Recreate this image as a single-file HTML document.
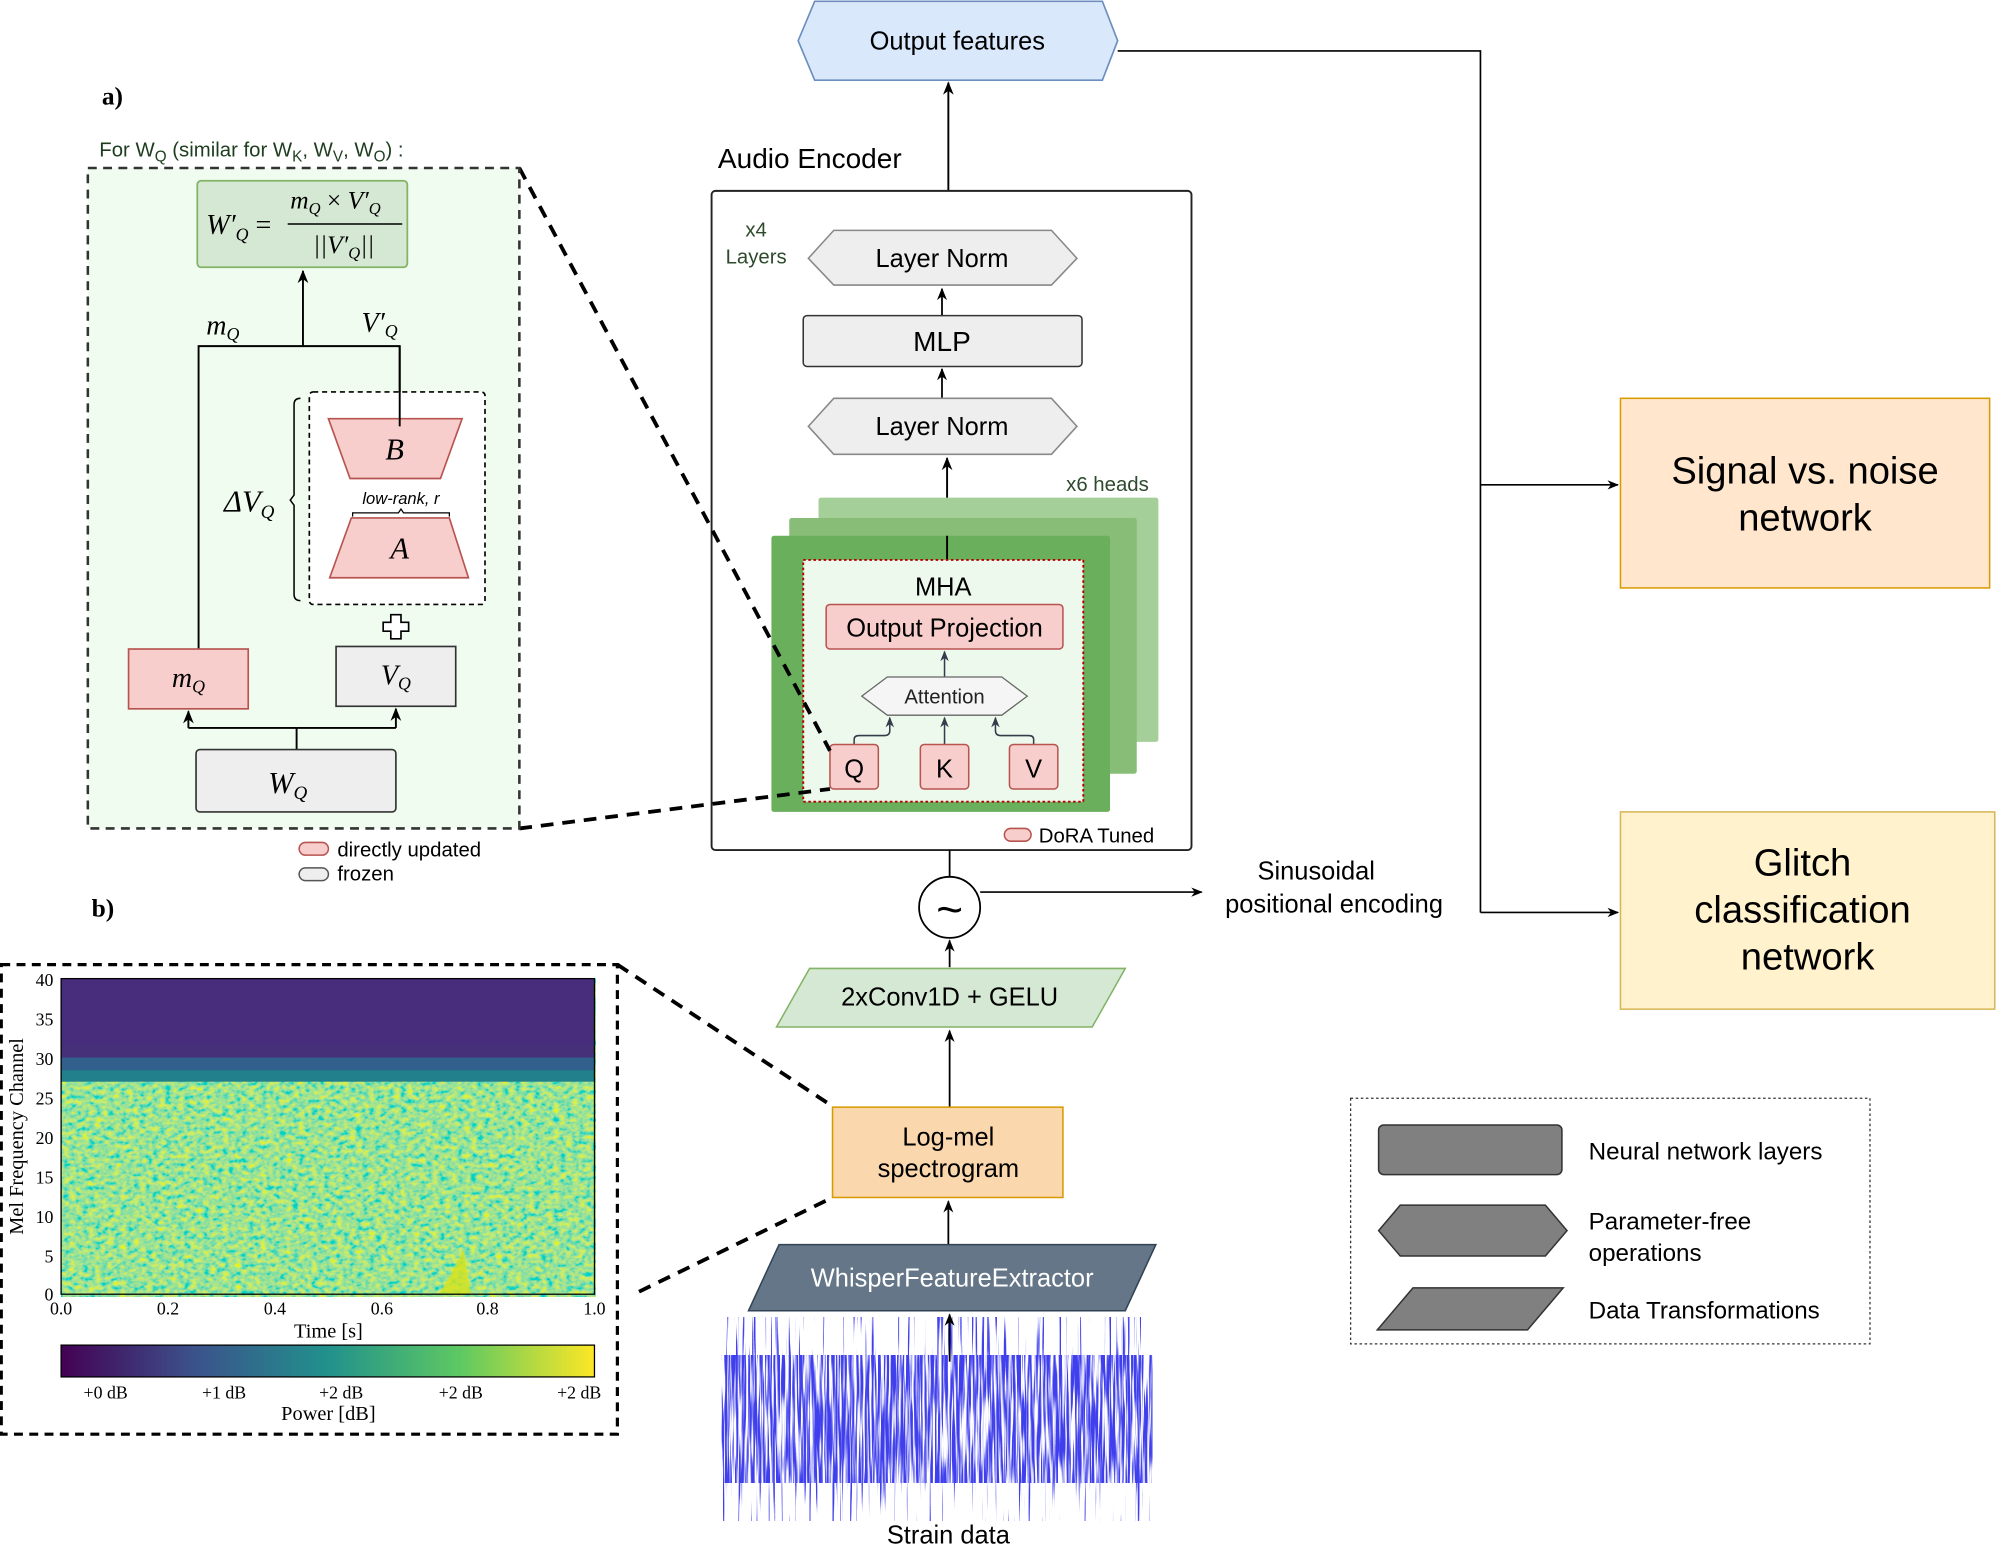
<!DOCTYPE html>
<html><head><meta charset="utf-8"><style>body{margin:0;background:#fff}svg{display:block}text{font-family:"Liberation Sans",sans-serif}.s{font-family:"Liberation Serif",serif}</style></head>
<body>
<svg width="1996" height="1550" viewBox="0 0 1568 1218" preserveAspectRatio="none" xmlns="http://www.w3.org/2000/svg">
<defs>
<marker id="ar" viewBox="0 0 10 10" refX="9" refY="5" markerWidth="7" markerHeight="7" orient="auto"><path d="M0,1 L10,5 L0,9 L3,5z" fill="#000"/></marker>
<marker id="ag" viewBox="0 0 10 10" refX="9" refY="5" markerWidth="7" markerHeight="7" orient="auto"><path d="M0,1 L10,5 L0,9 L3,5z" fill="#333c4a"/></marker>
<linearGradient id="vir" x1="0" x2="1"><stop offset="0" stop-color="#440154"/><stop offset=".25" stop-color="#3b528b"/><stop offset=".5" stop-color="#21918c"/><stop offset=".75" stop-color="#5ec962"/><stop offset="1" stop-color="#fde725"/></linearGradient>
<filter id="nz" filterUnits="userSpaceOnUse" x="48" y="769" width="420" height="250"><feTurbulence type="fractalNoise" baseFrequency="0.2 0.28" numOctaves="2" seed="4"/><feColorMatrix type="matrix" values="1.4 0 0 0 -0.37  0.4 0 0 0 0.56  -0.9 0 0 0 0.75  0 0 0 0 1"/></filter>
<filter id="wv" filterUnits="userSpaceOnUse" x="567" y="1035" width="338" height="160"><feTurbulence type="fractalNoise" baseFrequency="0.5 0.01" numOctaves="2" seed="7"/><feColorMatrix type="matrix" values="0 0 0 0 0.05  0 0 0 0 0.05  0 0 0 0 0.85  10 0 0 0 -6.2"/></filter>
<filter id="wc" filterUnits="userSpaceOnUse" x="567" y="1065" width="338" height="100"><feTurbulence type="fractalNoise" baseFrequency="0.6 0.02" numOctaves="2" seed="3"/><feColorMatrix type="matrix" values="0 0 0 0 0.05  0 0 0 0 0.05  0 0 0 0 0.85  6 0 0 0 -2.4"/></filter>
</defs>

<!-- Output features -->
<polygon points="640,1 866,1 878,32 866,63 640,63 627,32" fill="#dae8fc" stroke="#6c8ebf" stroke-width="1.3"/>
<text x="752" y="39" font-size="20" text-anchor="middle">Output features</text>
<polyline points="878,40 1163,40 1163,717" fill="none" stroke="#000" stroke-width="1.3"/>
<line x1="1163" y1="381" x2="1271" y2="381" stroke="#000" stroke-width="1.3" marker-end="url(#ar)"/>
<line x1="1163" y1="717" x2="1271" y2="717" stroke="#000" stroke-width="1.3" marker-end="url(#ar)"/>
<rect x="1273" y="313" width="290" height="149" fill="#ffe6cc" stroke="#d79b00" stroke-width="1.2"/>
<text x="1418" y="380" font-size="30" text-anchor="middle">Signal vs. noise</text>
<text x="1418" y="417" font-size="30" text-anchor="middle">network</text>
<rect x="1273" y="638" width="294" height="155" fill="#fff2cc" stroke="#d6b656" stroke-width="1.2"/>
<text x="1416" y="688" font-size="30" text-anchor="middle">Glitch</text>
<text x="1416" y="725" font-size="30" text-anchor="middle">classification</text>
<text x="1420" y="762" font-size="30" text-anchor="middle">network</text>

<!-- Encoder -->
<line x1="745" y1="150" x2="745" y2="65" stroke="#000" stroke-width="1.5" marker-end="url(#ar)"/>
<text x="564" y="132" font-size="22">Audio Encoder</text>
<rect x="559" y="150" width="377" height="518" rx="3" fill="#fff" stroke="#222" stroke-width="1.5"/>
<text x="594" y="186" font-size="16" fill="#2d4a2d" text-anchor="middle">x4</text>
<text x="594" y="207" font-size="16" fill="#2d4a2d" text-anchor="middle">Layers</text>
<polygon points="655,181 826,181 846,203 826,224 655,224 635,203" fill="#eeeeee" stroke="#888" stroke-width="1.2"/>
<text x="740" y="210" font-size="20" text-anchor="middle">Layer Norm</text>
<line x1="740" y1="248" x2="740" y2="227" stroke="#000" stroke-width="1.4" marker-end="url(#ar)"/>
<rect x="631" y="248" width="219" height="40" rx="3" fill="#eeeeee" stroke="#333" stroke-width="1.2"/>
<text x="740" y="276" font-size="22" text-anchor="middle">MLP</text>
<line x1="740" y1="313" x2="740" y2="290" stroke="#000" stroke-width="1.4" marker-end="url(#ar)"/>
<polygon points="655,313 826,313 846,335 826,357 655,357 635,335" fill="#eeeeee" stroke="#888" stroke-width="1.2"/>
<text x="740" y="342" font-size="20" text-anchor="middle">Layer Norm</text>
<line x1="744" y1="430" x2="744" y2="360" stroke="#000" stroke-width="1.5" marker-end="url(#ar)"/>
<text x="870" y="386" font-size="16" fill="#2d4a2d" text-anchor="middle">x6 heads</text>
<rect x="643" y="391" width="267" height="192" rx="2" fill="#a5cf98"/>
<rect x="620" y="407" width="273" height="201" rx="2" fill="#88bd77"/>
<rect x="606" y="421" width="266" height="217" rx="2" fill="#6aaf5c"/>
<line x1="744" y1="421" x2="744" y2="440" stroke="#000" stroke-width="1.5"/>
<rect x="631" y="440" width="220" height="190" fill="#eef9ee" stroke="#b20000" stroke-width="1.5" stroke-dasharray="2,2"/>
<text x="741" y="468" font-size="20" text-anchor="middle">MHA</text>
<rect x="649" y="475" width="186" height="35" rx="3" fill="#f8cecc" stroke="#b85450" stroke-width="1.2"/>
<text x="742" y="500" font-size="20" text-anchor="middle">Output Projection</text>
<line x1="742" y1="532" x2="742" y2="512" stroke="#333c4a" stroke-width="1.2" marker-end="url(#ag)"/>
<polygon points="697,532 787,532 807,547 787,562 697,562 677,547" fill="#f5f5f5" stroke="#666" stroke-width="1"/>
<text x="742" y="553" font-size="16" text-anchor="middle" fill="#222">Attention</text>
<path d="M671,585 V581 Q671,578 675,578 H695 Q699,578 699,574 V564" fill="none" stroke="#333c4a" stroke-width="1.2" marker-end="url(#ag)"/>
<line x1="742" y1="585" x2="742" y2="564" stroke="#333c4a" stroke-width="1.2" marker-end="url(#ag)"/>
<path d="M812,585 V581 Q812,578 808,578 H786 Q782,578 782,574 V564" fill="none" stroke="#333c4a" stroke-width="1.2" marker-end="url(#ag)"/>
<rect x="652" y="585" width="38" height="35" rx="3" fill="#f8cecc" stroke="#b85450" stroke-width="1.2"/>
<text x="671" y="611" font-size="20" text-anchor="middle">Q</text>
<rect x="723" y="585" width="38" height="35" rx="3" fill="#f8cecc" stroke="#b85450" stroke-width="1.2"/>
<text x="742" y="611" font-size="20" text-anchor="middle">K</text>
<rect x="793" y="585" width="38" height="35" rx="3" fill="#f8cecc" stroke="#b85450" stroke-width="1.2"/>
<text x="812" y="611" font-size="20" text-anchor="middle">V</text>
<rect x="789" y="651" width="21" height="10" rx="5" fill="#f8cecc" stroke="#b85450" stroke-width="1.2"/>
<text x="816" y="662" font-size="16">DoRA Tuned</text>

<!-- Lower chain -->
<line x1="746" y1="668" x2="746" y2="689" stroke="#000" stroke-width="1.4"/>
<circle cx="746" cy="713" r="24" fill="#fff" stroke="#000" stroke-width="1.4"/>
<text x="746" y="727" font-size="36" text-anchor="middle">~</text>
<line x1="770" y1="701" x2="944" y2="701" stroke="#000" stroke-width="1.3" marker-end="url(#ar)"/>
<text x="1034" y="691" font-size="20" text-anchor="middle">Sinusoidal</text>
<text x="1048" y="717" font-size="20" text-anchor="middle">positional encoding</text>
<line x1="746" y1="760" x2="746" y2="739" stroke="#000" stroke-width="1.4" marker-end="url(#ar)"/>
<polygon points="636,761 884,761 858,807 610,807" fill="#d5e8d4" stroke="#82b366" stroke-width="1.2"/>
<text x="746" y="790" font-size="20" text-anchor="middle">2xConv1D + GELU</text>
<line x1="746" y1="870" x2="746" y2="810" stroke="#000" stroke-width="1.4" marker-end="url(#ar)"/>
<rect x="654" y="870" width="181" height="71" fill="#fad7ac" stroke="#d79b00" stroke-width="1.2"/>
<text x="745" y="900" font-size="20" text-anchor="middle">Log-mel</text>
<text x="745" y="925" font-size="20" text-anchor="middle">spectrogram</text>
<line x1="745" y1="978" x2="745" y2="944" stroke="#000" stroke-width="1.4" marker-end="url(#ar)"/>
<polygon points="612,978 908,978 884,1030 588,1030" fill="#647687" stroke="#314354" stroke-width="1.2"/>
<text x="748" y="1011" font-size="20" text-anchor="middle" fill="#fff">WhisperFeatureExtractor</text>
<rect x="567" y="1035" width="338" height="160" filter="url(#wv)"/>
<rect x="567" y="1065" width="338" height="100" filter="url(#wc)"/>
<line x1="746" y1="1070" x2="746" y2="1033" stroke="#000" stroke-width="1.4" marker-end="url(#ar)"/>
<text x="745" y="1213" font-size="20" text-anchor="middle">Strain data</text>

<!-- Legend -->
<rect x="1061" y="863" width="408" height="193" fill="#fff" stroke="#333" stroke-width="1" stroke-dasharray="2,2"/>
<rect x="1083" y="884" width="144" height="39" rx="4" fill="#808080" stroke="#333" stroke-width="1.2"/>
<text x="1248" y="911" font-size="19">Neural network layers</text>
<polygon points="1100,947 1214,947 1231,967 1214,987 1100,987 1083,967" fill="#808080" stroke="#333" stroke-width="1.2"/>
<text x="1248" y="966" font-size="19">Parameter-free</text>
<text x="1248" y="991" font-size="19">operations</text>
<polygon points="1110,1012 1228,1012 1200,1045 1082,1045" fill="#808080" stroke="#333" stroke-width="1.2"/>
<text x="1248" y="1036" font-size="19">Data Transformations</text>

<!-- Panel a -->
<text x="80" y="82" font-size="20" font-weight="bold" class="s">a)</text>
<text x="78" y="123" font-size="16" fill="#1e3d1e">For W<tspan font-size="12" dy="4">Q</tspan><tspan dy="-4"> (similar for W</tspan><tspan font-size="12" dy="4">K</tspan><tspan dy="-4">, W</tspan><tspan font-size="12" dy="4">V</tspan><tspan dy="-4">, W</tspan><tspan font-size="12" dy="4">O</tspan><tspan dy="-4">) :</tspan></text>
<line x1="408" y1="132" x2="652" y2="590" stroke="#000" stroke-width="3" stroke-dasharray="10,7"/>
<line x1="408" y1="651" x2="652" y2="620" stroke="#000" stroke-width="3" stroke-dasharray="10,7"/>
<rect x="69" y="132" width="339" height="519" fill="#f1fcf1" stroke="#333" stroke-width="2" stroke-dasharray="7,5"/>
<rect x="155" y="142" width="165" height="68" rx="3" fill="#d5e8d4" stroke="#82b366" stroke-width="1.4"/>
<text x="162" y="184" font-size="22" class="s" font-style="italic">W′<tspan font-size="14" dy="5">Q</tspan><tspan dy="-5" font-style="normal"> =</tspan></text>
<text x="228" y="164" font-size="20" class="s" font-style="italic">m<tspan font-size="13" dy="4">Q</tspan><tspan dy="-4" font-style="normal"> × </tspan>V′<tspan font-size="13" dy="4">Q</tspan></text>
<line x1="226" y1="176" x2="316" y2="176" stroke="#000" stroke-width="1.2"/>
<text x="246" y="199" font-size="20" class="s" font-style="italic">||V′<tspan font-size="13" dy="4">Q</tspan><tspan dy="-4">||</tspan></text>
<line x1="238" y1="272" x2="238" y2="213" stroke="#000" stroke-width="1.5" marker-end="url(#ar)"/>
<polyline points="156,510 156,272 314,272 314,335" fill="none" stroke="#000" stroke-width="1.5"/>
<text x="162" y="263" font-size="22" class="s" font-style="italic">m<tspan font-size="14" dy="4">Q</tspan></text>
<text x="284" y="261" font-size="22" class="s" font-style="italic">V′<tspan font-size="14" dy="4">Q</tspan></text>
<rect x="243" y="308" width="138" height="167" rx="3" fill="#fff" stroke="#000" stroke-width="1.3" stroke-dasharray="4,3"/>
<path d="M236,313 Q231,313 231,318 V389 L228,393 L231,397 V467 Q231,472 236,472" fill="none" stroke="#000" stroke-width="1.2"/>
<text x="176" y="402" font-size="24" class="s" font-style="italic">ΔV<tspan font-size="15" dy="5">Q</tspan></text>
<polygon points="258,329 363,329 346,376 275,376" fill="#f8cecc" stroke="#b85450" stroke-width="1.3"/>
<line x1="314" y1="272" x2="314" y2="335" stroke="#000" stroke-width="1.5"/>
<text x="310" y="361" font-size="24" class="s" font-style="italic" text-anchor="middle">B</text>
<text x="315" y="396" font-size="13" font-style="italic" text-anchor="middle">low-rank, r</text>
<path d="M277,406 V403 H313 L315,400 L317,403 H353 V406" fill="none" stroke="#000" stroke-width="1"/>
<polygon points="276,407 353,407 368,454 259,454" fill="#f8cecc" stroke="#b85450" stroke-width="1.3"/>
<text x="314" y="439" font-size="24" class="s" font-style="italic" text-anchor="middle">A</text>
<path d="M307,483 h8 v6 h6 v7 h-6 v6 h-8 v-6 h-6 v-7 h6z" fill="#fff" stroke="#000" stroke-width="1.3"/>
<rect x="101" y="510" width="94" height="47" fill="#f8cecc" stroke="#b85450" stroke-width="1.3"/>
<text x="148" y="540" font-size="22" class="s" font-style="italic" text-anchor="middle">m<tspan font-size="14" dy="4">Q</tspan></text>
<rect x="264" y="508" width="94" height="47" fill="#eeeeee" stroke="#333" stroke-width="1.3"/>
<text x="311" y="538" font-size="22" class="s" font-style="italic" text-anchor="middle">V<tspan font-size="14" dy="4">Q</tspan></text>
<polyline points="233,589 233,572" fill="none" stroke="#000" stroke-width="1.5"/>
<line x1="233" y1="572" x2="148" y2="572" stroke="#000" stroke-width="1.5"/>
<line x1="233" y1="572" x2="311" y2="572" stroke="#000" stroke-width="1.5"/>
<line x1="148" y1="572" x2="148" y2="559" stroke="#000" stroke-width="1.5" marker-end="url(#ar)"/>
<line x1="311" y1="572" x2="311" y2="557" stroke="#000" stroke-width="1.5" marker-end="url(#ar)"/>
<rect x="154" y="589" width="157" height="49" rx="3" fill="#eeeeee" stroke="#333" stroke-width="1.3"/>
<text x="226" y="623" font-size="24" class="s" font-style="italic" text-anchor="middle">W<tspan font-size="15" dy="5">Q</tspan></text>
<rect x="235" y="662" width="23" height="10" rx="5" fill="#f8cecc" stroke="#b85450" stroke-width="1.2"/>
<text x="265" y="673" font-size="16">directly updated</text>
<rect x="235" y="682" width="23" height="10" rx="5" fill="#eeeeee" stroke="#555" stroke-width="1.2"/>
<text x="265" y="692" font-size="16">frozen</text>

<!-- Panel b -->
<text x="72" y="720" font-size="20" font-weight="bold" class="s">b)</text>
<line x1="485" y1="758" x2="652" y2="868" stroke="#000" stroke-width="3" stroke-dasharray="10,7"/>
<line x1="502" y1="1015" x2="652" y2="942" stroke="#000" stroke-width="3" stroke-dasharray="10,7"/>
<rect x="1" y="758" width="484" height="369" fill="#fff" stroke="#000" stroke-width="2.5" stroke-dasharray="7,5"/>
<rect x="48" y="769" width="419" height="248" filter="url(#nz)"/>
<rect x="48" y="769" width="419" height="81" fill="#21808c"/>
<rect x="48" y="769" width="419" height="72" fill="#3b528b" opacity=".7"/>
<rect x="48" y="769" width="419" height="62" fill="#46307a"/>
<rect x="48" y="769" width="419" height="52" fill="#472d7b"/>
<path d="M345,1017 L355,1000 L364,982 L370,1017z" fill="#d8e219" opacity=".8"/>
<rect x="48" y="769" width="419" height="248" fill="none" stroke="#000" stroke-width="1"/>
<g font-size="14" class="s" text-anchor="end">
<text x="42" y="775" class="s">40</text><text x="42" y="837" class="s">30</text><text x="42" y="806" class="s">35</text><text x="42" y="868" class="s">25</text><text x="42" y="899" class="s">20</text><text x="42" y="930" class="s">15</text><text x="42" y="961" class="s">10</text><text x="42" y="992" class="s">5</text><text x="42" y="1022" class="s">0</text>
</g>
<g font-size="14" text-anchor="middle">
<text x="48" y="1033" class="s">0.0</text><text x="132" y="1033" class="s">0.2</text><text x="216" y="1033" class="s">0.4</text><text x="300" y="1033" class="s">0.6</text><text x="383" y="1033" class="s">0.8</text><text x="467" y="1033" class="s">1.0</text>
<text x="258" y="1051" font-size="16" class="s">Time [s]</text>
</g>
<text x="0" y="0" font-size="16" class="s" text-anchor="middle" transform="translate(18,893) rotate(-90)">Mel Frequency Channel</text>
<rect x="48" y="1057" width="419" height="25" fill="url(#vir)" stroke="#000" stroke-width="1"/>
<g font-size="14" text-anchor="middle">
<text x="83" y="1099" class="s">+0 dB</text><text x="176" y="1099" class="s">+1 dB</text><text x="268" y="1099" class="s">+2 dB</text><text x="362" y="1099" class="s">+2 dB</text><text x="455" y="1099" class="s">+2 dB</text>
<text x="258" y="1116" font-size="16" class="s">Power [dB]</text>
</g>
</svg>
</body></html>
